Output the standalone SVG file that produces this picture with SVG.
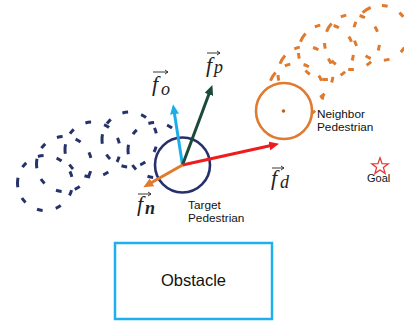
<svg xmlns="http://www.w3.org/2000/svg" width="404" height="327" viewBox="0 0 404 327">
<style>
.trailN{fill:none;stroke:#25336A;stroke-width:3;stroke-dasharray:12 28 12 28 12 28 12 24 20 24 12 28 12 28 12 28 12 28}
.trailO{fill:none;stroke:#E07A2E;stroke-width:3;stroke-dasharray:12 28 12 28 12 28 12 24 20 24 12 28 12 28 12 28 12 28}
.lbl{font-family:"Liberation Sans",Arial,sans-serif;font-size:11.8px;fill:#111}
.f{font-family:"Liberation Serif","Times New Roman",serif;font-style:italic;font-size:22px;fill:#222}
.sub{font-family:"Liberation Serif","Times New Roman",serif;font-style:italic;font-size:18px;fill:#222}
.vec{fill:none;stroke:#222;stroke-width:0.9}
.arr{stroke-width:3;fill:none}
</style>
<defs>
<marker id="hBlue" markerUnits="userSpaceOnUse" markerWidth="10" markerHeight="9" refX="3" refY="4.5" orient="auto"><path d="M0,0 L10,4.5 L0,9 z" fill="#1BAEEA"/></marker>
<marker id="hGreen" markerUnits="userSpaceOnUse" markerWidth="10" markerHeight="9" refX="3" refY="4.5" orient="auto"><path d="M0,0 L10,4.5 L0,9 z" fill="#1B4A38"/></marker>
<marker id="hRed" markerUnits="userSpaceOnUse" markerWidth="10" markerHeight="9" refX="3" refY="4.5" orient="auto"><path d="M0,0 L10,4.5 L0,9 z" fill="#EE1C1C"/></marker>
<marker id="hOrange" markerUnits="userSpaceOnUse" markerWidth="10" markerHeight="9" refX="3" refY="4.5" orient="auto"><path d="M0,0 L10,4.5 L0,9 z" fill="#E07A2E"/></marker>
</defs>
<rect width="404" height="327" fill="#fff"/>

<g id="target-trail">
<circle class="trailN" cx="45" cy="183" r="27.5" pathLength="360" stroke-dashoffset="-15"/>
<circle class="trailN" cx="64" cy="164" r="27.5" pathLength="360" stroke-dashoffset="-15"/>
<circle class="trailN" cx="92.5" cy="149.5" r="27.5" pathLength="360" stroke-dashoffset="-15"/>
<circle class="trailN" cx="129.5" cy="139.5" r="27.5" pathLength="360" stroke-dashoffset="-15"/>
<circle class="trailN" cx="155.5" cy="150" r="27.5" pathLength="360" stroke-dashoffset="-15"/>
</g>

<g id="neighbor-trail">
<circle class="trailO" cx="381" cy="33" r="27.5" pathLength="360" stroke-dashoffset="-72"/>
<circle class="trailO" cx="352" cy="42" r="27.5" pathLength="360" stroke-dashoffset="-46"/>
<circle class="trailO" cx="326" cy="52" r="27.5" pathLength="360" stroke-dashoffset="-46"/>
<circle class="trailO" cx="305.5" cy="74" r="27.5" pathLength="360" stroke-dashoffset="-46"/>
<circle class="trailO" cx="296" cy="91" r="27.5" pathLength="360" stroke-dashoffset="-46"/>
</g>

<g id="target">
<circle cx="182.5" cy="165" r="27.5" fill="#fff" stroke="#27306B" stroke-width="2.6"/>
<text class="lbl" x="188" y="209">Target</text>
<text class="lbl" x="188" y="222">Pedestrian</text>
</g>

<g id="neighbor">
<circle cx="284" cy="111" r="28" fill="#fff" stroke="#E07A2E" stroke-width="2.6"/>
<circle cx="283.5" cy="111" r="1.8" fill="#B8602A"/>
<text class="lbl" x="317" y="118">Neighbor</text>
<text class="lbl" x="317" y="131">Pedestrian</text>
</g>

<g id="goal">
<polygon points="380,157.8 382.1,163.6 388.3,163.8 383.4,167.6 385.1,173.4 380,170 374.9,173.4 376.6,167.6 371.7,163.8 377.9,163.6" fill="#fff" stroke="#E53935" stroke-width="1.3" stroke-linejoin="miter"/>
<text class="lbl" x="367" y="182" style="font-size:11px">Goal</text>
</g>

<g id="obstacle">
<rect x="115" y="243" width="157" height="76" fill="#fff" stroke="#1EB0EE" stroke-width="2.5"/>
<text x="193.5" y="286" text-anchor="middle" style="font-family:'Liberation Sans',Arial,sans-serif;font-size:16.5px;fill:#111">Obstacle</text>
</g>

<g id="connectors">
<line class="arr" x1="182.5" y1="165" x2="174.1" y2="111.2" stroke="#1BAEEA" marker-end="url(#hBlue)"/>
<line class="arr" x1="182.5" y1="165" x2="209.9" y2="91.6" stroke="#1B4A38" marker-end="url(#hGreen)"/>
<line class="arr" x1="182.5" y1="165" x2="272.2" y2="145.3" stroke="#EE1C1C" marker-end="url(#hRed)"/>
<line class="arr" x1="182.5" y1="165" x2="149.4" y2="183.8" stroke="#E07A2E" marker-end="url(#hOrange)"/>
</g>

<g id="labels">
<g id="label-fo">
<path class="vec" d="M153,72 H168 M165,70 L168,72 L165,74"/>
<text class="f" x="152" y="91">f</text>
<text class="sub" x="161" y="95">o</text>
</g>
<g id="label-fp">
<path class="vec" d="M207,53 H220 M217,51 L220,53 L217,55"/>
<text class="f" x="206" y="72">f</text>
<text class="sub" x="214" y="73">p</text>
</g>
<g id="label-fn">
<path class="vec" d="M138,194 H151 M148,192 L151,194 L148,196"/>
<text class="f" x="137" y="211">f</text>
<text class="sub" x="145" y="214" font-weight="bold">n</text>
</g>
<g id="label-fd">
<path class="vec" d="M272,168 H284 M281,166 L284,168 L281,170"/>
<text class="f" x="271" y="185">f</text>
<text class="sub" x="280" y="188">d</text>
</g>
</g>
</svg>
